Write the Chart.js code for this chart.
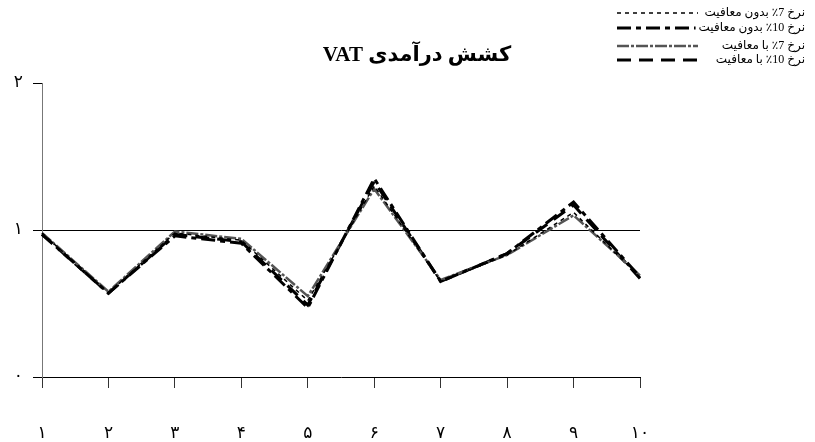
<!DOCTYPE html>
<html>
<head>
<meta charset="utf-8">
<script src="https://cdn.jsdelivr.net/npm/chart.js@4"></script>
<style>
html,body{margin:0;padding:0;background:#fff;}
#wrap{width:815px;height:442px;position:relative;}
</style>
</head>
<body>
<div id="wrap"><canvas id="c" width="815" height="442"></canvas></div>
<script>
const categories = ['۱','۲','۳','۴','۵','۶','۷','۸','۹','۱۰'];
const yTickLabels = ['۰','۱','۲'];
const seriesNames = ['نرخ 7٪ بدون معافیت','نرخ 10٪ بدون معافیت','نرخ 7٪ با معافیت','نرخ 10٪ با معافیت'];
const s7NoExempt  = [0.98,0.57,0.98,0.93,0.52,1.30,0.65,0.83,1.12,0.68];
const s10NoExempt = [0.97,0.57,0.96,0.91,0.47,1.35,0.65,0.84,1.19,0.68];
const s7Exempt    = [0.98,0.58,0.99,0.94,0.55,1.28,0.66,0.83,1.10,0.69];
const s10Exempt   = [0.97,0.57,0.97,0.92,0.49,1.33,0.65,0.84,1.17,0.67];
const titleText = 'کشش درآمدی VAT';

const styles = [
  {color:'#000', width:1.5, dash:[4,4]},
  {color:'#000', width:3, dash:[14,5,5,5]},
  {color:'#555', width:2.5, dash:[12,2,3,2]},
  {color:'#000', width:3, dash:[14,8]}
];
const seriesData = [s7NoExempt, s10NoExempt, s7Exempt, s10Exempt];

const datasets = seriesData.map((d,i)=>({
  label: seriesNames[i],
  data: d,
  borderColor: styles[i].color,
  borderWidth: styles[i].width,
  borderDash: styles[i].dash,
  pointRadius: 0,
  fill: false,
  tension: 0
}));

const overlay = {
  id:'overlay',
  afterDraw(chart){
    const ctx = chart.ctx;
    ctx.save();
    // title
    ctx.direction = 'rtl';
    ctx.fillStyle = '#000';
    ctx.font = 'bold 21px "Liberation Serif", "DejaVu Sans", serif';
    ctx.textAlign = 'center';
    ctx.textBaseline = 'middle';
    ctx.fillText(titleText, 417, 56);
    // legend
    const rows = [13, 28, 46, 60];
    chart.data.datasets.forEach((ds,i)=>{
      const y = rows[i];
      ctx.font = '12px "Liberation Serif", "DejaVu Sans", serif';
      ctx.textAlign = 'right';
      ctx.direction = 'rtl';
      const w = ctx.measureText(ds.label).width;
      const lineEnd = Math.min(698, 805 - w - 3);
      ctx.beginPath();
      ctx.setLineDash(ds.borderDash);
      ctx.lineWidth = ds.borderWidth;
      ctx.strokeStyle = ds.borderColor;
      ctx.moveTo(617, y);
      ctx.lineTo(lineEnd, y);
      ctx.stroke();
      ctx.setLineDash([]);
      ctx.fillText(ds.label, 805, y);
    });
    ctx.restore();
  }
};

new Chart(document.getElementById('c'), {
  type:'line',
  data:{labels:categories, datasets},
  options:{
    responsive:false,
    animation:false,
    layout:{padding:{top:83, right:175, left:0, bottom:0}},
    plugins:{legend:{display:false}, title:{display:false}, tooltip:{enabled:false}},
    scales:{
      x:{
        type:'category',
        offset:false,
        border:{color:'#000', width:1},
        grid:{drawOnChartArea:false, tickLength:11, tickColor:'#333', color:'#333'},
        ticks:{color:'#000', font:{size:17, family:'"DejaVu Sans", sans-serif'}, padding:35, maxRotation:0, autoSkip:false},
        afterFit(s){ s.height = 65; }
      },
      y:{
        min:0, max:2,
        border:{color:'#777', width:1},
        grid:{
          tickLength:9,
          color:(c)=> c.tick && c.tick.value===1 ? '#000' : 'rgba(0,0,0,0)',
          tickColor:'#000'
        },
        ticks:{stepSize:1, color:'#000', padding:10,
          font:{size:17, family:'"DejaVu Sans", sans-serif'},
          callback:(v)=> yTickLabels[v]},
        afterFit(s){ s.width = 42; }
      }
    }
  },
  plugins:[overlay]
});
</script>
</body>
</html>
